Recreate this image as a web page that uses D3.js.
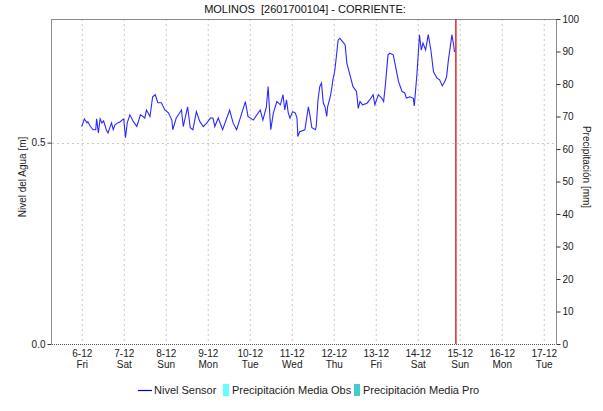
<!DOCTYPE html>
<html><head><meta charset="utf-8">
<script src="https://cdn.jsdelivr.net/npm/d3@7"></script>
<style>body{margin:0;background:#fff}svg{display:block;font-family:"Liberation Sans",Arial,sans-serif}</style>
</head><body><svg id="c" width="603" height="411"></svg>
<script>
// hours since 2023-12-06 00:00
const hours = [0,1.5,3,3.5,5,6.5,8,8.5,9.5,10.5,11.5,12.5,14,15,17,18,19,20.5,22,23,24,25,26,27.5,29.5,31.5,33.5,35,36,37,39,40.5,42,43.5,45.5,47.5,49.5,51.5,52,54,57,58,60.5,62,63.5,65.5,67.5,69.5,71.5,73.5,75,76,78,80.5,84.5,86.5,88.5,91.5,93.5,95,98,102,103.5,105.5,106.5,108,109.5,111.5,113.5,115,116,117,118,119,120.5,122,123,123.5,124.5,127.5,129.5,130.5,131.5,133.5,134,135,136,137,138,139,140,140.5,142,143,143.5,144.5,145.5,146.5,147.5,149,150.5,151.5,153.5,155,157,158,159,160.5,163,164.5,166.5,167.5,169.5,171.5,172.5,173.5,175,176,178,179.5,181,183,184.5,185.5,187.5,189.5,190,191.5,193,194,195,196.5,198,199.5,201,203,204.5,206,207.5,208.5,209.5,211,211.5,212.5,213];
const nivel = [0.540,0.559,0.549,0.552,0.540,0.532,0.532,0.559,0.524,0.559,0.549,0.554,0.532,0.524,0.549,0.532,0.544,0.549,0.552,0.556,0.559,0.512,0.549,0.569,0.552,0.540,0.569,0.565,0.561,0.581,0.565,0.614,0.619,0.599,0.599,0.581,0.574,0.556,0.532,0.561,0.581,0.540,0.589,0.537,0.532,0.577,0.552,0.540,0.549,0.561,0.561,0.540,0.561,0.532,0.581,0.549,0.532,0.574,0.602,0.565,0.556,0.581,0.556,0.589,0.639,0.532,0.574,0.602,0.594,0.619,0.581,0.606,0.574,0.561,0.577,0.574,0.561,0.515,0.527,0.532,0.589,0.565,0.537,0.532,0.540,0.606,0.639,0.648,0.599,0.589,0.565,0.589,0.614,0.639,0.656,0.676,0.714,0.755,0.759,0.751,0.743,0.697,0.664,0.639,0.627,0.585,0.602,0.594,0.598,0.606,0.619,0.594,0.619,0.610,0.602,0.643,0.718,0.722,0.718,0.685,0.652,0.627,0.624,0.611,0.614,0.610,0.591,0.668,0.768,0.730,0.747,0.730,0.768,0.730,0.676,0.660,0.656,0.641,0.652,0.664,0.705,0.751,0.768,0.743,0.725];
const dayTicks = ["6-12","7-12","8-12","9-12","10-12","11-12","12-12","13-12","14-12","15-12","16-12","17-12"];
const dayNames = ["Fri","Sat","Sun","Mon","Tue","Wed","Thu","Fri","Sat","Sun","Mon","Tue"];
const leftTicks = [0.0, 0.5];
const rightTicks = [0,10,20,30,40,50,60,70,80,90,100];
const nowHour = 213.5;
const title = "MOLINOS  [2601700104] - CORRIENTE:";
const legendItems = ["Nivel Sensor","Precipitación Media Obs","Precipitación Media Pro"];

const svg = d3.select("#c");
const L = 52, R = 556, T = 19, B = 344;
const x = d3.scaleLinear().domain([-17, 271]).range([L, R]);
const y = d3.scaleLinear().domain([0, 0.807]).range([B, T]);
const y2 = d3.scaleLinear().domain([0, 100]).range([B, T]);

// grid
const dayHours = dayTicks.map((d,i)=>i*24);
svg.append("g").selectAll("line").data(dayHours).join("line")
  .attr("x1",d=>x(d)+0.5).attr("x2",d=>x(d)+0.5).attr("y1",T).attr("y2",B)
  .attr("stroke","#c8c8c8").attr("stroke-dasharray","2,3");
svg.append("line").attr("x1",L).attr("x2",R).attr("y1",Math.round(y(0.5))+0.5).attr("y2",Math.round(y(0.5))+0.5)
  .attr("stroke","#c8c8c8").attr("stroke-dasharray","2,3");

// frame
svg.append("line").attr("x1",L).attr("x2",R).attr("y1",T+0.5).attr("y2",T+0.5).attr("stroke","#8a8a8a");
svg.append("line").attr("x1",L-0.5).attr("x2",L-0.5).attr("y1",T).attr("y2",B).attr("stroke","#8a8a8a");
svg.append("line").attr("x1",R+0.5).attr("x2",R+0.5).attr("y1",T).attr("y2",B).attr("stroke","#8a8a8a");
svg.append("line").attr("x1",L).attr("x2",R).attr("y1",B+0.5).attr("y2",B+0.5).attr("stroke","#555").attr("stroke-dasharray","1,1");

// left axis
const ga = svg.append("g").attr("transform",`translate(${L-0.5},0)`)
  .call(d3.axisLeft(y).tickValues(leftTicks).tickFormat(d3.format(".1f")).tickSize(4).tickSizeOuter(0));
ga.select(".domain").remove();
ga.selectAll("line").attr("stroke","#333");
ga.selectAll("text").attr("font-size",10).attr("fill","#222").attr("x",-6).attr("font-family","Liberation Sans, Arial");

// right axis
const gr = svg.append("g").attr("transform",`translate(${R+0.5},0)`)
  .call(d3.axisRight(y2).tickValues(rightTicks).tickSize(4).tickSizeOuter(0));
gr.select(".domain").remove();
gr.selectAll("line").attr("stroke","#333");
gr.selectAll("text").attr("font-size",10).attr("fill","#222").attr("x",6).attr("font-family","Liberation Sans, Arial");

// bottom labels
const gb = svg.append("g").attr("transform",`translate(0,${B})`)
  .call(d3.axisBottom(x).tickValues(dayHours).tickSize(0).tickFormat((d,i)=>dayTicks[i]));
gb.select(".domain").remove();
gb.selectAll("text").attr("font-size",10).attr("fill","#222").attr("y",6).attr("font-family","Liberation Sans, Arial");
gb.selectAll(".tick").append("text").text((d,i)=>dayNames[i]).attr("y",17).attr("dy","0.71em")
  .attr("font-size",10).attr("fill","#222").attr("text-anchor","middle").attr("font-family","Liberation Sans, Arial");

// data line
const line = d3.line().x((d,i)=>x(hours[i])).y(d=>y(d));
svg.append("path").datum(nivel).attr("d",line).attr("fill","none").attr("stroke","#2a2aff").attr("stroke-width",1.1);

// now line
svg.append("rect").attr("x",x(nowHour)-0.25).attr("width",1.5).attr("y",T).attr("height",B-T)
  .style("fill","#e02828");

// title
svg.append("text").attr("x",305).attr("y",13).attr("text-anchor","middle").attr("font-size",11).attr("fill","#111")
  .style("white-space","pre").attr("xml:space","preserve").text(title);

// axis titles
svg.append("text").attr("transform","translate(26,177) rotate(-90)").attr("text-anchor","middle").attr("font-size",10).attr("fill","#222").text("Nivel del Agua [m]");
svg.append("text").attr("transform","translate(583,167) rotate(90)").attr("text-anchor","middle").attr("font-size",10).attr("fill","#222").text("Precipitación [mm]");

// legend
const lg = svg.append("g").attr("font-size",11).attr("fill","#222");
lg.append("line").attr("x1",138).attr("x2",152).attr("y1",390.5).attr("y2",390.5).attr("stroke","#0000cc").attr("stroke-width",1.2);
lg.append("text").attr("x",154).attr("y",394).text(legendItems[0]);
lg.append("rect").attr("x",223).attr("y",384).attr("width",6).attr("height",12).attr("fill","#66ffff");
lg.append("text").attr("x",232).attr("y",394).text(legendItems[1]);
lg.append("rect").attr("x",354).attr("y",384).attr("width",6).attr("height",12).attr("fill","#44cccc");
lg.append("text").attr("x",363).attr("y",394).text(legendItems[2]);
</script></body></html>
